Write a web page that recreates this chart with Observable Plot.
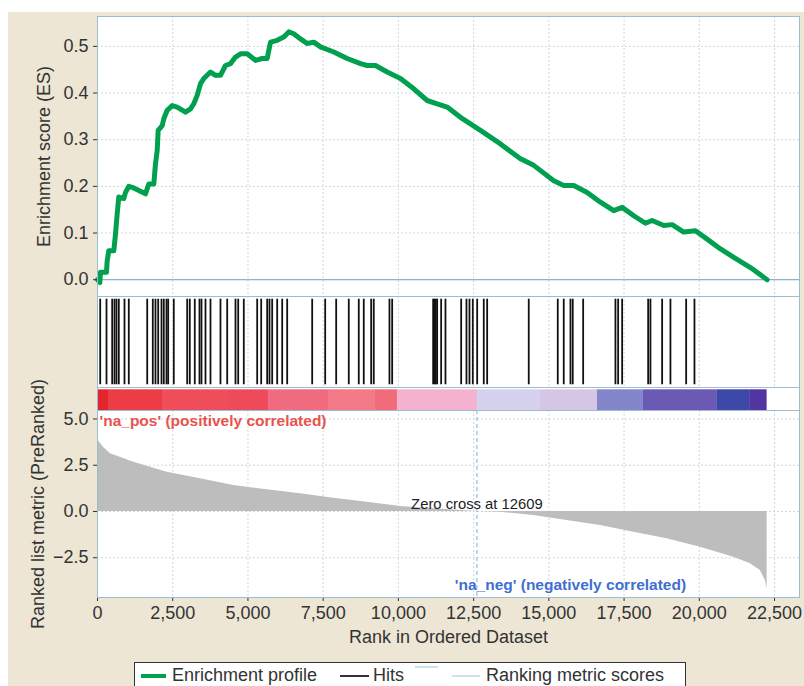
<!DOCTYPE html>
<html><head><meta charset="utf-8">
<script src="https://cdn.jsdelivr.net/npm/d3@7"></script>
<script src="https://cdn.jsdelivr.net/npm/@observablehq/plot@0.6"></script>
<style>
body{margin:0;background:#fff;}
#root{position:relative;width:804px;height:686px;overflow:hidden;background:#fff;font-family:"Liberation Sans",Arial,sans-serif;}
#bg{position:absolute;left:8px;top:12px;right:0;bottom:0;background:#ede6d5;}
.panel{position:absolute;left:0;}
#legend{position:absolute;left:134px;top:662px;width:552px;height:40px;background:#fff;border:1.5px solid #333;box-sizing:border-box;font-size:18px;color:#333;}
#legend .item{position:absolute;top:2px;line-height:21px;white-space:nowrap;}
#legend .sw{position:absolute;}
</style></head><body>
<div id="root"><div id="bg"></div></div>
<script>
// ---- data ----
const esRanks  = [0,77,100,299,321,376,542,598,653,708,874,930,1040,1153,1595,1705,1871,1927,1984,2017,2150,2203,2316,2482,2648,2924,3090,3200,3313,3423,3533,3755,3921,4087,4253,4420,4586,4752,4975,5250,5473,5639,5749,5972,6191,6357,6523,6746,6968,7188,7410,7853,8298,8740,8962,9238,9627,10069,10511,10956,11288,11621,12062,12727,13392,14056,14498,15163,15495,15827,16273,16715,17157,17436,17822,18210,18433,18818,19097,19482,19872,20260,20703,21145,21699,22254];
const esScores = [0,-0.006,0.016,0.016,0.04,0.062,0.062,0.098,0.14,0.177,0.174,0.187,0.2,0.198,0.184,0.205,0.205,0.248,0.277,0.32,0.33,0.345,0.363,0.373,0.37,0.359,0.366,0.377,0.395,0.42,0.431,0.445,0.438,0.438,0.459,0.463,0.477,0.484,0.484,0.47,0.474,0.474,0.509,0.513,0.52,0.531,0.527,0.516,0.506,0.509,0.499,0.488,0.474,0.463,0.459,0.459,0.445,0.431,0.409,0.384,0.377,0.37,0.348,0.32,0.291,0.259,0.245,0.212,0.202,0.202,0.187,0.166,0.148,0.155,0.137,0.121,0.127,0.116,0.118,0.102,0.105,0.087,0.066,0.048,0.026,0.0];
const hitRanks = [90,299,488,565,631,708,897,1040,1652,1838,1927,2017,2127,2203,2293,2349,2535,2981,3067,3233,3389,3456,3589,3755,4087,4310,4586,4676,4862,5307,5440,5639,5716,5805,5972,6138,6304,7135,7567,7932,8351,8683,8849,9095,9181,9703,9793,11155,11199,11242,11288,11421,11564,12086,12262,12362,12472,12618,12837,12950,14332,15296,15495,15718,15794,16140,17213,17303,17436,18300,18376,18765,19041,19563,19839];
const metricRanks  = [0,66,210,432,1207,1761,2316,3423,4530,5639,6746,7853,8962,10069,12609,13392,14498,15606,16715,17822,18930,20038,21145,21699,22031,22197,22254];
const metricValues = [3.9,3.74,3.45,3.12,2.66,2.39,2.12,1.77,1.41,1.17,0.96,0.72,0.5,0.27,0,-0.04,-0.22,-0.49,-0.76,-1.12,-1.48,-1.93,-2.47,-2.83,-3.19,-3.73,-4.18];
const barStarts = [0,366,2160,4353,5682,7676,9238,9969,12627,14721,16615,18144,20603,21699];
const barEnds   = [366,2160,4353,5682,7676,9238,9969,12627,14721,16615,18144,20603,21699,22254];
const barColors = ["#e3262e","#ec3c46","#ef4d5a","#ee4a5a","#f06a80","#f27a86","#f06c7a","#f4b2d0","#d4d2ee","#d6c6e6","#8486cc","#6a5ab4","#3d48a8","#5434a0"];
const xTicks = [0,2500,5000,7500,10000,12500,15000,17500,20000,22500];
const esTicks = [0,0.1,0.2,0.3,0.4,0.5];
const metricTicks = [-2.5,0,2.5,5];
const zeroCross = 12609;
const posLabel = "'na_pos' (positively correlated)";
const negLabel = "'na_neg' (negatively correlated)";
const zeroLabel = "Zero cross at " + zeroCross;

// ---- build ----
const root = document.getElementById("root");
const W = 804, ML = 97, MR = 5;
const xDomain = [0, 23330];
const gridStroke = "#cdd9e4";
const frameStroke = "#9fbccd";
const style = {background:"transparent", fontFamily:"'Liberation Sans', Arial, sans-serif", fontSize:"18px", color:"#333", overflow:"visible"};
const common = {width:W, marginLeft:ML, marginRight:MR, style};
function place(svg, top){ svg.classList.add("panel"); svg.style.position="absolute"; svg.style.top=top+"px"; svg.style.left="0px"; root.appendChild(svg); }

const esData = esRanks.map((r,i)=>({rank:r, es:esScores[i]}));
const metricData = metricRanks.map((r,i)=>({rank:r, v:metricValues[i]}));
const barData = barStarts.map((s,i)=>({s, e:barEnds[i], c:barColors[i]}));

const A = Plot.plot({
  ...common, height:296, marginTop:16, marginBottom:0,
  x:{domain:xDomain, axis:null},
  y:{domain:[-0.036,0.564]},
  marks:[
    Plot.frame({fill:"white"}),
    Plot.gridX(xTicks,{stroke:gridStroke, strokeOpacity:1, strokeDasharray:"2,2"}),
    Plot.gridY(esTicks,{stroke:gridStroke, strokeOpacity:1, strokeDasharray:"2,2"}),
    Plot.ruleY([0],{stroke:"#8fb3c9", strokeWidth:1.2}),
    Plot.line(esData,{x:"rank", y:"es", stroke:"#00a04f", strokeWidth:5, strokeLinejoin:"round"}),
    Plot.axisY({ticks:esTicks, tickFormat:d3.format(".1f"), tickSize:4, tickPadding:5, label:"Enrichment score (ES)", labelAnchor:"center", labelOffset:60, labelArrow:"none", fontSize:18}),
    Plot.frame({stroke:frameStroke})
  ]
});
place(A, 0);

const B = Plot.plot({
  ...common, height:91, marginTop:0, marginBottom:0,
  x:{domain:xDomain, axis:null},
  y:{domain:[0,1], axis:null},
  marks:[
    Plot.frame({fill:"white"}),
    Plot.gridX(xTicks,{stroke:gridStroke, strokeOpacity:1, strokeDasharray:"2,2"}),
    Plot.ruleX(hitRanks,{y1:0.03, y2:0.97, stroke:"#111", strokeWidth:1.8}),
    Plot.frame({stroke:frameStroke})
  ]
});
place(B, 296);

const C = Plot.plot({
  ...common, height:23, marginTop:0, marginBottom:0,
  x:{domain:xDomain, axis:null},
  y:{domain:[0,1], axis:null},
  marks:[
    Plot.frame({fill:"white"}),
    Plot.rectX(barData,{x1:"s", x2:"e", y1:0, y2:0.9, fill:"c"}),
    Plot.frame({stroke:frameStroke})
  ]
});
place(C, 387);

const D = Plot.plot({
  ...common, height:250, marginTop:0, marginBottom:63,
  x:{domain:xDomain},
  y:{domain:[-4.65,5.46]},
  marks:[
    Plot.frame({fill:"white"}),
    Plot.gridX(xTicks,{stroke:gridStroke, strokeOpacity:1, strokeDasharray:"2,2"}),
    Plot.gridY(metricTicks,{stroke:gridStroke, strokeOpacity:1, strokeDasharray:"2,2"}),
    Plot.areaY(metricData,{x:"rank", y:"v", fill:"#bdbdbd"}),
    Plot.ruleX([zeroCross],{stroke:"#7fb0d6", strokeDasharray:"4,3"}),
    Plot.text([zeroLabel],{x:zeroCross, y:0, dy:-7, text:d=>d, fontSize:14.8, fill:"#222", textAnchor:"middle"}),
    Plot.text([posLabel],{frameAnchor:"top-left", dx:2, dy:4, text:d=>d, fontSize:15.5, fontWeight:"bold", fill:"#e8534c", textAnchor:"start"}),
    Plot.text([negLabel],{x:15718, y:-4.0, text:d=>d, fontSize:15.5, fontWeight:"bold", fill:"#3f6fd0", textAnchor:"middle"}),
    Plot.axisY({ticks:metricTicks, tickFormat:d3.format(".1f"), tickSize:4, tickPadding:5, label:"Ranked list metric (PreRanked)", labelAnchor:"center", labelOffset:66, labelArrow:"none", fontSize:18}),
    Plot.axisX({ticks:xTicks, tickFormat:d3.format(","), tickSize:4, tickPadding:5, label:"Rank in Ordered Dataset", labelAnchor:"center", labelOffset:45, labelArrow:"none", fontSize:18}),
    Plot.frame({stroke:frameStroke})
  ]
});
place(D, 410);

// legend
const lg = document.createElement("div");
lg.id = "legend";
lg.innerHTML = `
<div class="sw" style="left:6px;top:11px;width:25px;height:4px;background:#00a04f"></div>
<div class="item" style="left:37px">Enrichment profile</div>
<div class="sw" style="left:205px;top:12px;width:29px;height:1.5px;background:#333"></div>
<div class="item" style="left:238px">Hits</div>
<div class="sw" style="left:280px;top:3px;width:23px;height:2px;background:#cfe0ee"></div>
<div class="sw" style="left:317px;top:12px;width:28px;height:2px;background:#cfe0ee"></div>
<div class="item" style="left:351px">Ranking metric scores</div>`;
root.appendChild(lg);
</script>
</body></html>
